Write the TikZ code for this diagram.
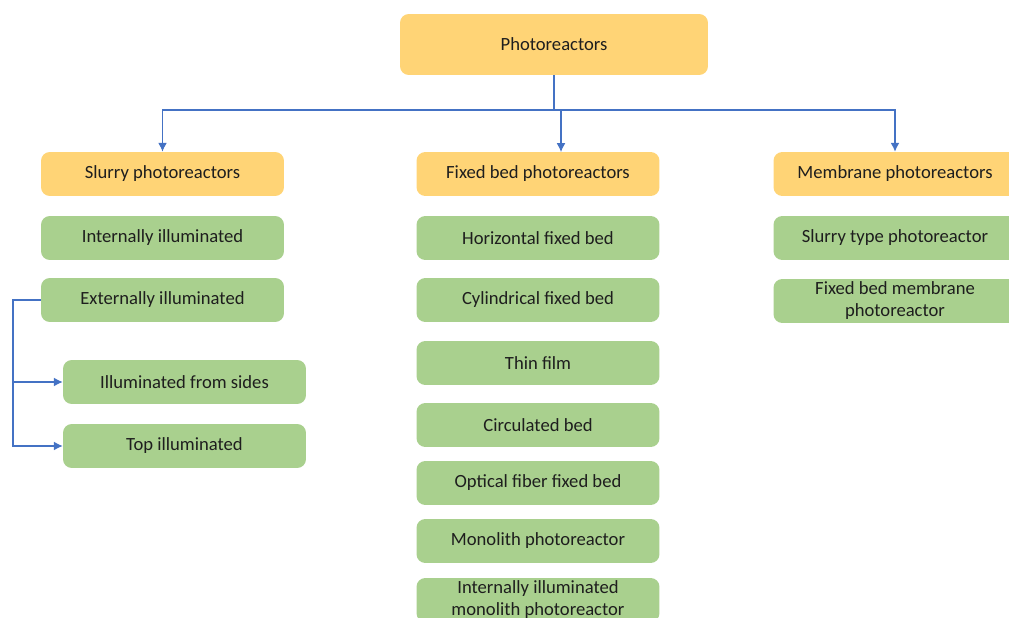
\documentclass[tikz,border=0pt]{standalone}
\usepackage{fontspec}
\setmainfont{Carlito}
\usetikzlibrary{arrows.meta}
\definecolor{boxorange}{RGB}{255,212,118}
\definecolor{boxgreen}{RGB}{169,208,142}
\definecolor{linkblue}{RGB}{68,114,196}
\definecolor{ink}{RGB}{30,30,30}
\tikzset{%
  >={Latex[length=5pt,width=5pt]}, % default arrow style
  basebox/.style={rounded corners=5pt, minimum width=4.86cm, minimum height=0.88cm,
    align=center, text=ink, font=\fontsize{10.6}{12.5}\selectfont, inner sep=1pt},
  headbox/.style={basebox, fill=boxorange},
  itembox/.style={basebox, fill=boxgreen},
  link/.style={draw=linkblue, line width=0.6pt}%
}

\begin{document}
\begin{tikzpicture}[x=0.02cm,y=-0.02cm]
  \useasboundingbox (0,0) rectangle (1009,618);
  \clip (0,0) rectangle (1009,618);
  % root
  \node[headbox, minimum width=6.16cm, minimum height=1.22cm] (root) at (554,44.5) {Photoreactors};
  % three families
  \node[headbox] (slurry) at (162.5,174) {Slurry photoreactors};
  \node[headbox] (fixed) at (538,174) {Fixed bed photoreactors};
  \node[headbox] (membrane) at (895,174) {Membrane photoreactors};
  % slurry types
  \node[itembox] (intill) at (162.5,238) {Internally illuminated};
  \node[itembox] (extill) at (162.5,300) {Externally illuminated};
  \node[itembox] (sides) at (184.5,382) {Illuminated from sides};
  \node[itembox] (topill) at (184.5,446) {Top illuminated};
  % fixed bed types
  \node[itembox] (horiz) at (538,238) {Horizontal fixed bed};
  \node[itembox] (cylin) at (538,300) {Cylindrical fixed bed};
  \node[itembox] (thin) at (538,363) {Thin film};
  \node[itembox] (circ) at (538,425) {Circulated bed};
  \node[itembox] (fiber) at (538,483) {Optical fiber fixed bed};
  \node[itembox] (mono) at (538,541) {Monolith photoreactor};
  \node[itembox] (intmono) at (538,600) {Internally illuminated\\monolith photoreactor};
  % membrane types
  \node[itembox] (slurrytype) at (895,238) {Slurry type photoreactor};
  \node[itembox] (fixedmem) at (895,301) {Fixed bed membrane\\photoreactor};
  % connectors
  \coordinate (hub) at (554,110);
  \coordinate (fixedin) at (561,152);
  \coordinate (bend) at (13,300);
  \draw[link] (root.south) -- (hub);
  \draw[link,->] (hub) -| (slurry.north);
  \draw[link,->] (hub) -| (fixedin);
  \draw[link,->] (hub) -| (membrane.north);
  \draw[link,->] (extill.west) -- (bend) |- (sides.west);
  \draw[link,->] (bend) |- (topill.west);
\end{tikzpicture}
\end{document}
